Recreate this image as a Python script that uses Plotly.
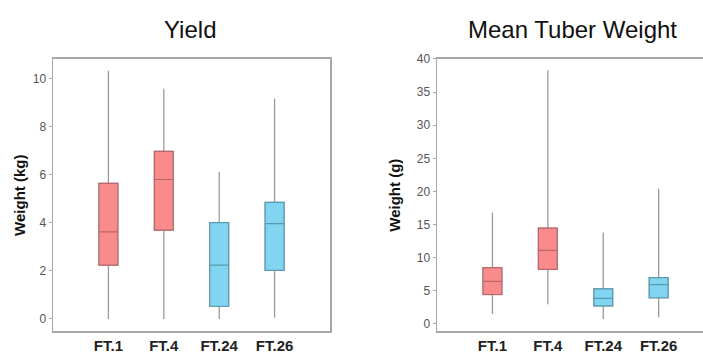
import plotly.graph_objects as go

categories = ["FT.1", "FT.4", "FT.24", "FT.26"]

# Yield (kg)
yield_low = [0.0, 0.0, 0.0, 0.05]
yield_q1 = [2.24, 3.70, 0.53, 2.02]
yield_med = [3.63, 5.81, 2.24, 3.97]
yield_q3 = [5.65, 6.98, 4.01, 4.86]
yield_high = [10.34, 9.59, 6.12, 9.18]

# Mean tuber weight (g)
mtw_low = [1.48, 2.96, 0.74, 0.99]
mtw_q1 = [4.44, 8.24, 2.71, 3.95]
mtw_med = [6.42, 11.1, 3.85, 5.93]
mtw_q3 = [8.49, 14.47, 5.28, 7.0]
mtw_high = [16.8, 38.3, 13.8, 20.4]

fills = ["#F98B8D", "#F98B8D", "#82D5F1", "#82D5F1"]
edges = ["#B8676A", "#B8676A", "#5A9AB0", "#5A9AB0"]
whisker_col = "#9A9A9A"

fig = go.Figure()

def add_boxes(xa, ya, low, q1, med, q3, high):
    for i, c in enumerate(categories):
        # whiskers (gray)
        fig.add_trace(go.Box(
            x=[c], q1=[q1[i]], median=[med[i]], q3=[q3[i]],
            lowerfence=[low[i]], upperfence=[high[i]],
            fillcolor="rgba(0,0,0,0)", line=dict(color=whisker_col, width=1.3),
            whiskerwidth=0, width=0.34, boxpoints=False,
            xaxis=xa, yaxis=ya, showlegend=False, hoverinfo="skip",
        ))
        # box body
        fig.add_trace(go.Box(
            x=[c], q1=[q1[i]], median=[med[i]], q3=[q3[i]],
            lowerfence=[q1[i]], upperfence=[q3[i]],
            fillcolor=fills[i], line=dict(color=edges[i], width=1.2),
            whiskerwidth=0, width=0.34, boxpoints=False,
            xaxis=xa, yaxis=ya, showlegend=False, hoverinfo="skip",
        ))

add_boxes("x", "y", yield_low, yield_q1, yield_med, yield_q3, yield_high)
add_boxes("x2", "y2", mtw_low, mtw_q1, mtw_med, mtw_q3, mtw_high)

W, H = 703, 354
ydom = [1 - 331 / H, 1 - 53 / H]
axcol = "#A8A8A8"
FAM = "Liberation Sans, Arial, sans-serif"
tickfont = dict(family=FAM, size=12, color="#555")
catfont = dict(family=FAM, size=15, color="#222", weight="bold")
titlefont = dict(family=FAM, size=15, color="#111", weight="bold")

fig.update_layout(
    width=W, height=H, margin=dict(l=0, r=0, t=0, b=0),
    paper_bgcolor="white", plot_bgcolor="white", boxmode="overlay",
    xaxis=dict(domain=[53 / W, 330 / W], type="category", categoryorder="array",
               categoryarray=categories, range=[-1, 4], showline=True, linecolor=axcol,
               linewidth=1.5, mirror=True, ticks="", showgrid=False,
               tickfont=catfont, zeroline=False, anchor="y"),
    yaxis=dict(domain=ydom, range=[-0.52, 10.83], tickvals=[0, 2, 4, 6, 8, 10],
               showline=True, linecolor=axcol, linewidth=1.5, mirror=True,
               ticks="outside", ticklen=3, tickcolor=axcol, showgrid=False,
               zeroline=False, tickfont=tickfont, anchor="x",
               title=dict(text="Weight (kg)", font=titlefont, standoff=3)),
    xaxis2=dict(domain=[437 / W, 1.0], type="category", categoryorder="array",
                categoryarray=categories, range=[-1, 3.8], showline=True, linecolor=axcol,
                linewidth=1.5, mirror=True, ticks="", showgrid=False,
                tickfont=catfont, zeroline=False, anchor="y2"),
    yaxis2=dict(domain=ydom, range=[-1.14, 40], tickvals=[0, 5, 10, 15, 20, 25, 30, 35, 40],
                showline=True, linecolor=axcol, linewidth=1.5, mirror=False,
                ticks="outside", ticklen=3, tickcolor=axcol, showgrid=False,
                zeroline=False, tickfont=tickfont, anchor="x2",
                title=dict(text="Weight (g)", font=titlefont, standoff=12)),
    annotations=[
        dict(text="Yield", x=190 / W, y=1 - 23 / H, xref="paper", yref="paper",
             xanchor="center", yanchor="middle",
             showarrow=False, font=dict(family=FAM, size=24, color="#111")),
        dict(text="Mean Tuber Weight", x=572 / W, y=1 - 23 / H, xref="paper", yref="paper",
             xanchor="center", yanchor="middle",
             showarrow=False, font=dict(family=FAM, size=24, color="#111")),
    ],
)

fig.write_html("out.html", config={"displayModeBar": False, "staticPlot": True},
               post_script="document.body.style.margin='0';document.body.style.padding='0';"
                           "document.body.style.overflow='hidden';")
